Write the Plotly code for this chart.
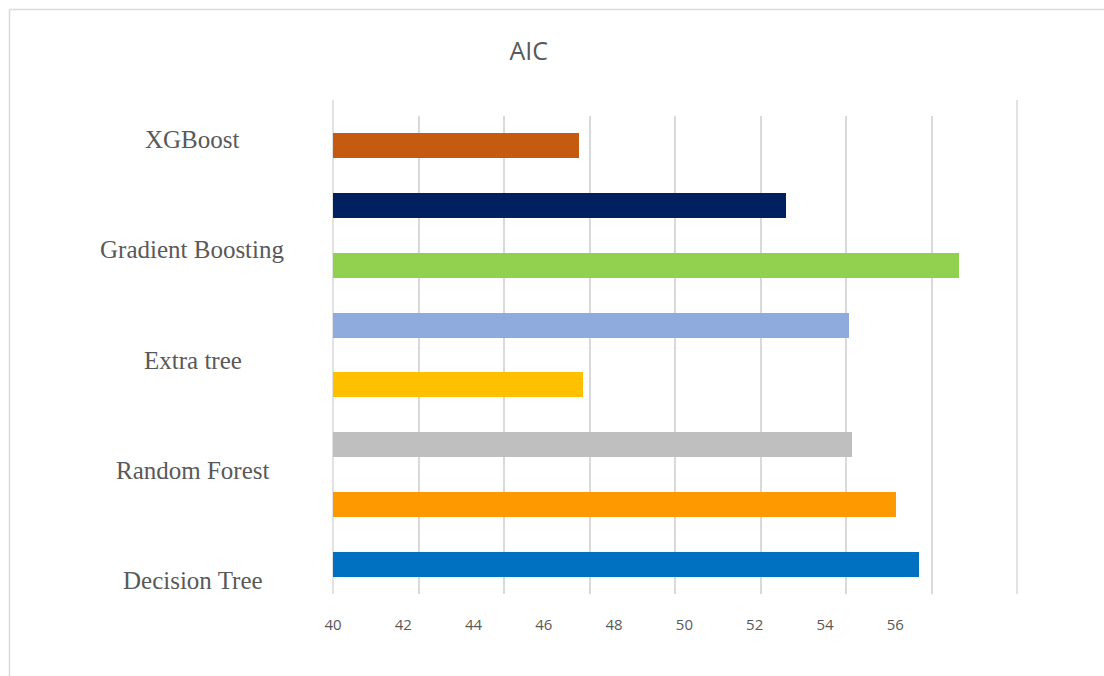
import plotly.graph_objects as go

# ---- data ----
bar_values = [56.67, 56.02, 54.77, 47.11, 54.68, 57.81, 52.89, 47.00]
bar_colors = ["#0070C0", "#FF9900", "#BFBFBF", "#FFC000",
              "#8FAADC", "#92D050", "#002060", "#C55A11"]
bar_positions = list(range(len(bar_values)))
model_labels = ["Decision Tree", "Random Forest", "Extra tree",
                "Gradient Boosting", "XGBoost"]
label_positions = [-0.28, 1.56, 3.41, 5.26, 7.11]
x_tick_values = [40, 42, 44, 46, 48, 50, 52, 54, 56]
x_tick_labels = [str(v) for v in x_tick_values]

# ---- layout geometry (pixels) ----
W, H = 1104, 676
L, R, T, B = 333, 1017, 116, 594
X_MIN, X_MAX = 40, 59.465

def px_x(px):
    return (px - L) / (R - L)

def px_y(py):
    return (B - py) / (B - T)

GRID = "#d9d9d9"
TEXT = "#595959"

fig = go.Figure()
fig.add_trace(go.Bar(
    x=bar_values, y=bar_positions, orientation="h",
    marker=dict(color=bar_colors, line=dict(width=0)),
    width=0.42, showlegend=False, hoverinfo="x",
))

annotations = []
for lab, pos in zip(model_labels, label_positions):
    annotations.append(dict(
        text=lab, x=px_x(192.5), xref="paper", y=pos, yref="y",
        xanchor="center", yanchor="middle", showarrow=False,
        font=dict(family="Liberation Serif, Times New Roman, serif",
                  size=25, color=TEXT),
    ))

shapes = [
    # outer frame (left and top)
    dict(type="line", xref="paper", yref="paper",
         x0=px_x(9.5), x1=px_x(W + 5), y0=px_y(9.5), y1=px_y(9.5),
         line=dict(color=GRID, width=1.5), layer="below"),
    dict(type="line", xref="paper", yref="paper",
         x0=px_x(9.5), x1=px_x(9.5), y0=px_y(9.5), y1=px_y(H + 5),
         line=dict(color=GRID, width=1.5), layer="below"),
    # taller outer gridlines
    dict(type="line", xref="x domain", yref="paper",
         x0=0, x1=0, y0=0, y1=px_y(100),
         line=dict(color=GRID, width=1.5), layer="below"),
    dict(type="line", xref="x domain", yref="paper",
         x0=1, x1=1, y0=0, y1=px_y(100),
         line=dict(color=GRID, width=1.5), layer="below"),
]

fig.update_layout(
    width=W, height=H,
    margin=dict(l=L, r=W - R, t=T, b=H - B, pad=0),
    paper_bgcolor="white", plot_bgcolor="white",
    title=dict(text="AIC", x=528.7 / W, xref="container", xanchor="center",
               y=1 - 51.5 / H, yref="container", yanchor="middle",
               font=dict(family="Open Sans, sans-serif", size=25, color=TEXT)),
    xaxis=dict(
        range=[X_MIN, X_MAX], tickmode="array",
        tickvals=x_tick_values, ticktext=x_tick_labels,
        showgrid=False, zeroline=False, showline=False, ticks="",
        ticklabelstandoff=20,
        tickfont=dict(family="Open Sans, sans-serif", size=15, color=TEXT),
        minor=dict(tick0=X_MIN, dtick=(X_MAX - X_MIN) / 8, showgrid=True,
                   gridcolor=GRID, gridwidth=1.5, ticks=""),
    ),
    yaxis=dict(
        range=[-0.5, 7.5], showgrid=False, zeroline=False,
        showline=False, ticks="", showticklabels=False,
    ),
    annotations=annotations,
    shapes=shapes,
    bargap=0,
)

fig.write_html("out.html")
